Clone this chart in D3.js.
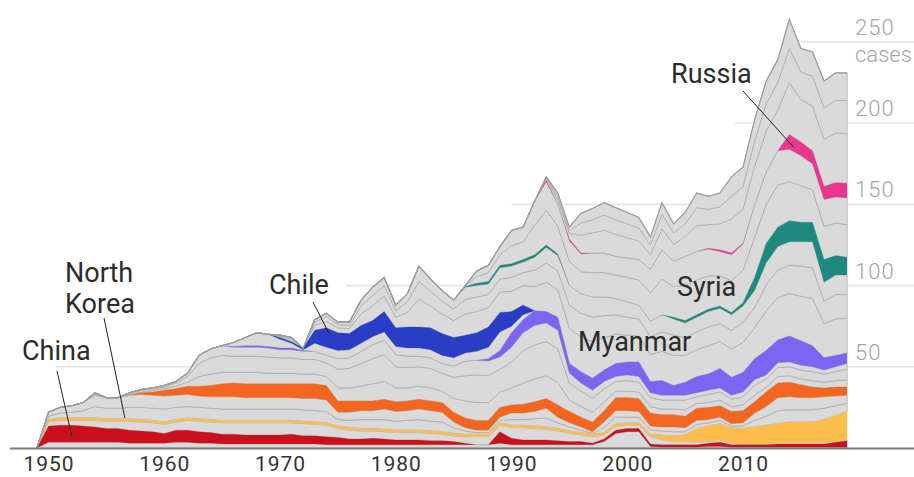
<!DOCTYPE html>
<html lang="en">
<head>
<meta charset="utf-8">
<script src="https://cdn.jsdelivr.net/npm/d3@7"></script>
<style>
  body { margin: 0; background: #fff; }
  svg text { font-family: Roboto, "Liberation Sans", sans-serif; }
</style>
</head>
<body>
<svg id="chart" width="914" height="477"></svg>
<script>
// one value per year, 1949 to 2019
var years = d3.range(1949, 2020);

// cases per layer, bottom of the stack first
var greyBase = [0,
  3.5,3.5,3.5,3.5,3.5,3.5,3.5,3,3,3,
  3,3.5,3.5,3,3,2.5,2.5,2.5,2.5,2.5,
  2.5,2.5,2.5,2.5,2,2,2,2,2,2,
  2,2,2,2,2,2,2,2,2,3,
  2,2,2,2,2,2,2,2,4,9,
  10,10,1,0.5,0.5,0.5,0.5,1,1,0.5,
  0.5,0.5,0.5,0.5,0.5,0.5,0.5,0.5,0.5,0.5];
var china = [0,
  10,10.5,10.5,10,9.5,8.5,8.5,8,7.5,7,
  6,7.5,7.5,7,6.5,6,6,5.5,5.5,5.5,
  5.5,6,5,5,5,4.5,3.5,3.5,4,3.5,
  3,3,3,2.5,2.5,2,1,0,0,7,
  4,3,3,3,2.5,2,2,1,1.5,2,
  2,2,1.5,1.5,1.5,1.5,1.5,2,2.5,1.5,
  1.5,1.5,1.5,2,2,2,2,2,3,4];
var greyChinaKorea = [0,
  2.5,3,3,3.5,4,4.5,4.5,5.5,5.5,5.5,
  5.5,5,6,6.5,6.5,7,7,7.5,7.5,7.5,
  7.5,7,7.5,7,7,5.5,5.5,5,4.5,4.5,
  4.5,4.5,4.5,4.5,4,3.5,4,5,5,4,
  6.5,7.5,7,6.5,6,5,4,4,2.5,2.5,
  2,2,4.5,3,2,2,1.5,1,1,1,
  0.5,0.5,0.5,0.5,0.5,0.5,0.5,0.5,0.5,0.5];
var northKorea = [0,
  1.5,1.5,1.5,1.5,1.5,1.5,1.5,1.5,1.5,1.5,
  1.5,1.5,1.5,1.5,1.5,1.5,1.5,1.5,1.5,1.5,
  1.5,1.5,1.5,1.5,1.5,1.5,1.5,1.5,1.5,1.5,
  1.5,1.5,1.5,1.5,1.5,1.5,1.5,1.5,1.5,1.5,
  1.5,1.5,1.5,1.5,1.5,1.5,1.5,1.5,1.5,1.5,
  1.5,1.5,1.5,3,3.5,4,8.5,9.5,10.5,9.5,
  9.5,10.5,11.5,12,13,13,13,14.5,16,17.5];
var greyKorea1 = [0,
  2,3,3.5,4.5,7,6.5,6.5,7,7.5,7.5,
  8,7.5,7,7,7,7,7,7,7,7,
  7,7,7,7,7,4,4.5,5.5,5.5,6,
  5.5,6,6.5,6,6,3.5,2,1,1,1.5,
  3.5,3.5,4.5,5.5,3.5,2.5,1.5,0.5,3,4,
  3.5,3.5,2.5,2.5,2.5,2,2.5,2,2,1,
  1.5,4,5.5,8,7.5,7.5,7.5,7,6,5];
var greyKorea2 = [0,
  2.5,3.5,4,5,7,6.5,6.5,7.5,8,8,
  8,7.5,7.5,7,7,7.5,7.5,7,7,7,
  7,7,7,7.5,7,4.5,5,5.5,5.5,6.5,
  6,6,6.5,6.5,6,3.5,2,1.5,1.5,2,
  4,4,4.5,6,3.5,2.5,2,1,3.5,4,
  4,3.5,2.5,2.5,3,2.5,2.5,2,2,1.5,
  2,4.5,6,8,8,7.5,7.5,7,6,5];
var orangeBand = [0,
  0,0,0,0,0,0,0,0,1,2,
  3.5,4,5,6,7,8,8.5,8.5,8.5,8.5,
  8.5,8.5,9,9,9,7,7,6,6,6,
  6,6,6,6,6,6,6,6,6,6,
  5,5.5,6,6,7.5,7,6,6,7,8,
  8,8,8,7.5,7.5,7,7.5,7.5,7,7.5,
  7.5,7,9,9,9,8,6.5,5.5,5.5,5];
var greyMid1 = [0,
  0,0,0,0,0.5,0,0,0.5,0.5,1,
  1,1.5,2.5,6,7,7,6.5,7,7,6.5,
  6.5,6.5,6,6,5.5,8,8,9,10.5,11,
  8.5,8,8,8,7,8.5,10.5,11,11,9.5,
  10.5,13,14,14,14,7,6.5,6,5.5,4,
  4,4,4,3.5,3.5,4,3,3,3.5,3,
  3.5,4,3,4,4,3.5,4,3.5,4,4.5];
var greyMid2 = [0,
  0,0,0,0,0.5,0,0,0.5,1,1,
  1,2,3.5,8,10,10.5,10,10,10,10,
  9.5,9.5,9,9,8.5,11.5,12,14,15.5,16.5,
  13,12.5,12,12,11,13,15.5,17,16.5,14,
  16,20,21,21,20.5,10.5,9.5,8.5,8,6,
  6.5,6,5.5,5.5,5.5,6,4,5,5,4.5,
  5,6,5,5.5,5.5,5.5,5.5,5,5.5,6.5];
var greyMid3 = [0,
  0,0,0,0,0.5,0,0,0.5,0.5,0.5,
  1,1,2,5,5.5,6,5.5,5.5,5.5,5.5,
  5,5,5,5,4.5,6.5,6.5,7.5,8.5,9,
  7.5,7,6.5,6.5,6,7,9,9,9,7.5,
  9,11,12,11.5,11.5,6,5,5,4.5,3,
  3.5,3.5,3,3,3,3,2.5,2.5,2.5,2.5,
  3,3.5,2.5,3,3,3,3,2.5,3,3.5];
var myanmar = [0,
  0,0,0,0,0,0,0,0,0,0,
  0,0,0,0,0,0,0.5,1,1,1,
  1,1,0.5,0,0,0,0,0,0,0,
  0,0,0,0,0,0,0,0,1.5,4,
  9,8,9,7,8,6,7,7.5,7,8,
  8,9,7,9,6,8,10,10,12,11,
  12,13,15,14,16,15,13,7.5,7,6.5];
var greyMyanmarChile = [0,
  0,0,0,0,0,0,0,0,0,0,
  0,0,0,0,0,0,2.5,5,8,7.5,
  5.5,3,0.5,5,5,5,5,5,5,5,
  5,5,5,5,5,5,5,5.5,7,11.5,
  4,3,0,0,0,0,0,0,0,0,
  0,0,0,0,0,0,0,0,0,0,
  0,0,0,0,0,0,0,0,0,0];
var chile = [0,
  0,0,0,0,0,0,0,0,0,0,
  0,0,0,0,0,0,0,0,0,0,
  1,1,1,8,12,11,10,11,10,12.5,
  11.5,13,13,13.5,13.5,12.5,11,11.5,12.5,12,
  9,6,0,0,0,0,0,0,0,0,
  0,0,0,0,0,0,0,0,0,0,
  0,0,0,0,0,0,0,0,0,0];
var greyUpper1 = [0,
  0,0,0,0,0,0,0,0,0,0,
  0,0,0,0,0,0,0,0,0,0,
  0.5,1,0,3,4,3,3,7,9,9.5,
  6.5,9,17,13.5,12,10.5,13,13,12,12.5,
  12.5,12,15,18,17,21.5,21.5,22.5,20,18,
  16.5,16,16.5,18,18.5,16.5,16.5,17.5,16.5,17.5,
  18.5,19,24.5,26,26,27.5,29,21,22.5,21.5];
var greyUpper2 = [0,
  0,0,0,0,0,0,0,0,0,0,
  0,0,0,0,0,0,0,0,0,0,
  0.5,1,0,2,3,2,2,5,6.5,6.5,
  4,6.5,11,9,8,7,9,9,8,8,
  8.5,8,10,12,11.5,14.5,14.5,15,13.5,12,
  11,10.5,11,12,12.5,11,11,11.5,11,11.5,
  12.5,12.5,16,17,17.5,18.5,19,14,15,14.5];
var greyUpper3 = [0,
  0,0,0,0,0,0,0,0,0,0,
  0,0,0,0,0,0,0,0,0,0,
  0.5,0.5,0,1.5,2,1.5,2,3.5,5,5,
  3.5,5,9.5,7.5,6.5,5.5,7.5,7,6.5,7,
  7,6.5,8,9.5,9.5,12,12,12.5,11.5,10,
  9.5,8.5,9.5,10.5,10,9,9,9.5,9.5,9.5,
  10,10.5,13.5,14.5,14.5,15,16,11.5,12,12];
var syria = [0,
  0,0,0,0,0,0,0,0,0,0,
  0,0,0,0,0,0,0,0,0,0,
  0,0,0,0,0,0,0,0,0,0,
  0,0,0,0,0,0,0.5,1.5,1.5,1.5,
  1.5,1.5,1.5,1.5,1,0,0,0,0,0,
  0,0,0,0,1,1.5,1.5,1.5,1.5,1.5,
  2,8,12,12,13,12,12,14,12,11];
var greyHigh1 = [0,
  0,0,0,0,0,0,0,0,0,0,
  0,0,0,0,0,0,0,0,0,0,
  0,0,0,0,0,0,0,0,0,0,
  0,0,0,0,0,0,0.5,4,5.5,6.5,
  11,11,18,21.5,17,15,13.5,15,15,14.5,
  15,15.5,17.5,22,19,21.5,21.5,20.5,18.5,19.5,
  20,25,24,26,24,22.5,20,20.5,20,20];
var greyHigh2 = [0,
  0,0,0,0,0,0,0,0,0,0,
  0,0,0,0,0,0,0,0,0,0,
  0,0,0,0,0,0,0,0,0,0,
  0,0,0,0,0,0,0,3.5,4.5,5,
  9.5,9,15,17.5,13.5,12.5,11,12,12,11.5,
  12,12.5,14.5,18,15.5,18,17.5,16.5,15,16,
  16,20,20,21,20,18.5,16,16.5,16,16.5];
var russia = [0,
  0,0,0,0,0,0,0,0,0,0,
  0,0,0,0,0,0,0,0,0,0,
  0,0,0,0,0,0,0,0,0,0,
  0,0,0,0,0,0,0,0,0,0,
  0,0,0,1,0,1,0.5,0,0,0,
  0,0,0,0,0,0,0,0.5,1,1,
  0.5,0,0,0,9,8.5,8,8,9,9];
var greyTop1 = [0,
  0,0,0,0,0,0,0,0,0,0,
  0,0,0,0,0,0,0,0,0,0,
  0,0,0,0,0,0,0,0,0,0,
  0,0,0,0,0,0,0,0,0,0,
  0,0,0,1,3,3.5,11,12.5,14,13.5,
  12.5,11.5,9,13,10.5,12,16,14.5,16,21,
  21,23.5,25,25,32,26,27.5,29,30.5,30.5];
var greyTop2 = [0,
  0,0,0,0,0,0,0,0,0,0,
  0,0,0,0,0,0,0,0,0,0,
  0,0,0,0,0,0,0,0,0,0,
  0,0,0,0,0,0,0,0,0,0,
  0,0,0,0.5,2,2,7.5,8,9.5,9,
  8.5,8,6,9,7,8,11,9.5,10.5,14,
  14,15.5,17,17,21,17,18.5,19.5,20,20.5];
var greyTop3 = [0,
  0,0,0,0,0,0,0,0,0,0,
  0,0,0,0,0,0,0,0,0,0,
  0,0,0,0,0,0,0,0,0,0,
  0,0,0,0,0,0,0,0,0,0,
  0,0,0,0.5,2,2,6,7,7.5,7.5,
  7,6.5,5,7,5.5,7,9,8,8.5,12,
  12,13,14,14,18,14.5,15,16.5,17,17];

var yTicks = [50, 100, 150, 200, 250];
var xTicks = [1950, 1960, 1970, 1980, 1990, 2000, 2010];

var layers = [
  ["greyBase", greyBase], ["china", china], ["greyChinaKorea", greyChinaKorea],
  ["northKorea", northKorea], ["greyKorea1", greyKorea1], ["greyKorea2", greyKorea2],
  ["orangeBand", orangeBand], ["greyMid1", greyMid1], ["greyMid2", greyMid2],
  ["greyMid3", greyMid3], ["myanmar", myanmar], ["greyMyanmarChile", greyMyanmarChile],
  ["chile", chile], ["greyUpper1", greyUpper1], ["greyUpper2", greyUpper2],
  ["greyUpper3", greyUpper3], ["syria", syria], ["greyHigh1", greyHigh1],
  ["greyHigh2", greyHigh2], ["russia", russia], ["greyTop1", greyTop1],
  ["greyTop2", greyTop2], ["greyTop3", greyTop3]
];

var colors = {
  china: "#c8111d",
  northKorea: "#fcbd4b",
  orangeBand: "#f2661f",
  myanmar: "#7c66f1",
  chile: "#2a3dc5",
  syria: "#1e897f",
  russia: "#e8378d"
};

var keys = layers.map(function(l) { return l[0]; });
var table = years.map(function(yr, i) {
  var row = { year: yr };
  layers.forEach(function(l) { row[l[0]] = l[1][i]; });
  return row;
});

var svg = d3.select("#chart");

var x = d3.scaleLinear().domain([1950, 2019]).range([48.5, 847.2]);
var y = d3.scaleLinear().domain([0, 250]).range([448, 42]);

// gridlines, each starting a little left of where the area reaches them
var gridFrom = { 50: 1950.6, 100: 1975.7, 150: 1990, 200: 2009.3, 250: 2015 };
svg.append("g")
  .selectAll("line")
  .data(yTicks)
  .enter()
  .append("line")
    .attr("x1", function(d) { return x(gridFrom[d]); })
    .attr("x2", 914)
    .attr("y1", function(d) { return y(d); })
    .attr("y2", function(d) { return y(d); })
    .attr("stroke", "#e6e6e6")
    .attr("stroke-width", 1.6);

var stacked = d3.stack().keys(keys)(table);

var area = d3.area()
  .x(function(d) { return x(d.data.year); })
  .y0(function(d) { return y(d[0]); })
  .y1(function(d) { return y(d[1]); });

// grey layers first, with their thin outlines
svg.append("g")
  .selectAll("path")
  .data(stacked.filter(function(s) { return !colors[s.key]; }))
  .enter()
  .append("path")
    .attr("d", area)
    .attr("fill", "#dadada")
    .attr("stroke", "#a8a8a8")
    .attr("stroke-width", 0.7)
    .attr("stroke-linejoin", "round");

// highlighted countries on top
svg.append("g")
  .selectAll("path")
  .data(stacked.filter(function(s) { return colors[s.key]; }))
  .enter()
  .append("path")
    .attr("d", area)
    .attr("fill", function(s) { return colors[s.key]; });

// darker outline along the top of the stack
var topLayer = stacked[stacked.length - 1];
svg.append("path")
  .datum(topLayer)
  .attr("d", d3.line()
    .x(function(d) { return x(d.data.year); })
    .y(function(d) { return y(d[1]); }))
  .attr("fill", "none")
  .attr("stroke", "#9c9c9c")
  .attr("stroke-width", 1.2);

// baseline
svg.append("line")
  .attr("x1", 10).attr("x2", 914)
  .attr("y1", y(0) + 0.5).attr("y2", y(0) + 0.5)
  .attr("stroke", "#7a7a7a")
  .attr("stroke-width", 2);

// x axis labels
var xAxis = svg.append("g")
  .attr("transform", "translate(0," + y(0) + ")")
  .call(d3.axisBottom(x).tickValues(xTicks).tickSize(0).tickPadding(8).tickFormat(d3.format("d")));
xAxis.select(".domain").remove();
xAxis.selectAll("text")
  .attr("font-family", "Roboto, 'Liberation Sans', sans-serif")
  .attr("font-size", 21)
  .attr("letter-spacing", 1)
  .attr("fill", "#333");

// y labels on the right
svg.append("g")
  .selectAll("text")
  .data(yTicks)
  .enter()
  .append("text")
    .attr("x", 855)
    .attr("y", function(d) { return y(d) - 7; })
    .attr("font-size", 22)
    .attr("font-weight", 300)
    .attr("letter-spacing", 1)
    .attr("fill", "#a4a4a4")
    .text(function(d) { return d; });
svg.append("text")
  .attr("x", 855)
  .attr("y", y(250) + 20)
  .attr("font-size", 22)
  .attr("font-weight", 300)
  .attr("fill", "#a4a4a4")
  .text("cases");

// country labels and leader lines
var notes = [
  { lines: ["China"], tx: 22, ty: 360, from: [57, 371], to: [1952, 7.5] },
  { lines: ["North", "Korea"], tx: 65, ty: 282, from: [104, 318], to: [1956.6, 18.5] },
  { lines: ["Chile"], tx: 269, ty: 294, from: [313, 302], to: [1974.2, 71] },
  { lines: ["Myanmar"], tx: 578, ty: 351 },
  { lines: ["Syria"], tx: 677, ty: 296 },
  { lines: ["Russia"], tx: 671, ty: 83, from: [743, 91], to: [2014.4, 185] }
];

notes.forEach(function(n) {
  if (n.from) {
    svg.append("line")
      .attr("x1", n.from[0]).attr("y1", n.from[1])
      .attr("x2", x(n.to[0])).attr("y2", y(n.to[1]))
      .attr("stroke", "#222")
      .attr("stroke-width", 1);
  }
  var t = svg.append("text")
    .attr("x", n.tx)
    .attr("y", n.ty)
    .attr("font-size", 27)
    .attr("fill", "#2b2b2b");
  n.lines.forEach(function(s, i) {
    t.append("tspan")
      .attr("x", n.tx)
      .attr("dy", i === 0 ? 0 : 31)
      .text(s);
  });
});
</script>
</body>
</html>
